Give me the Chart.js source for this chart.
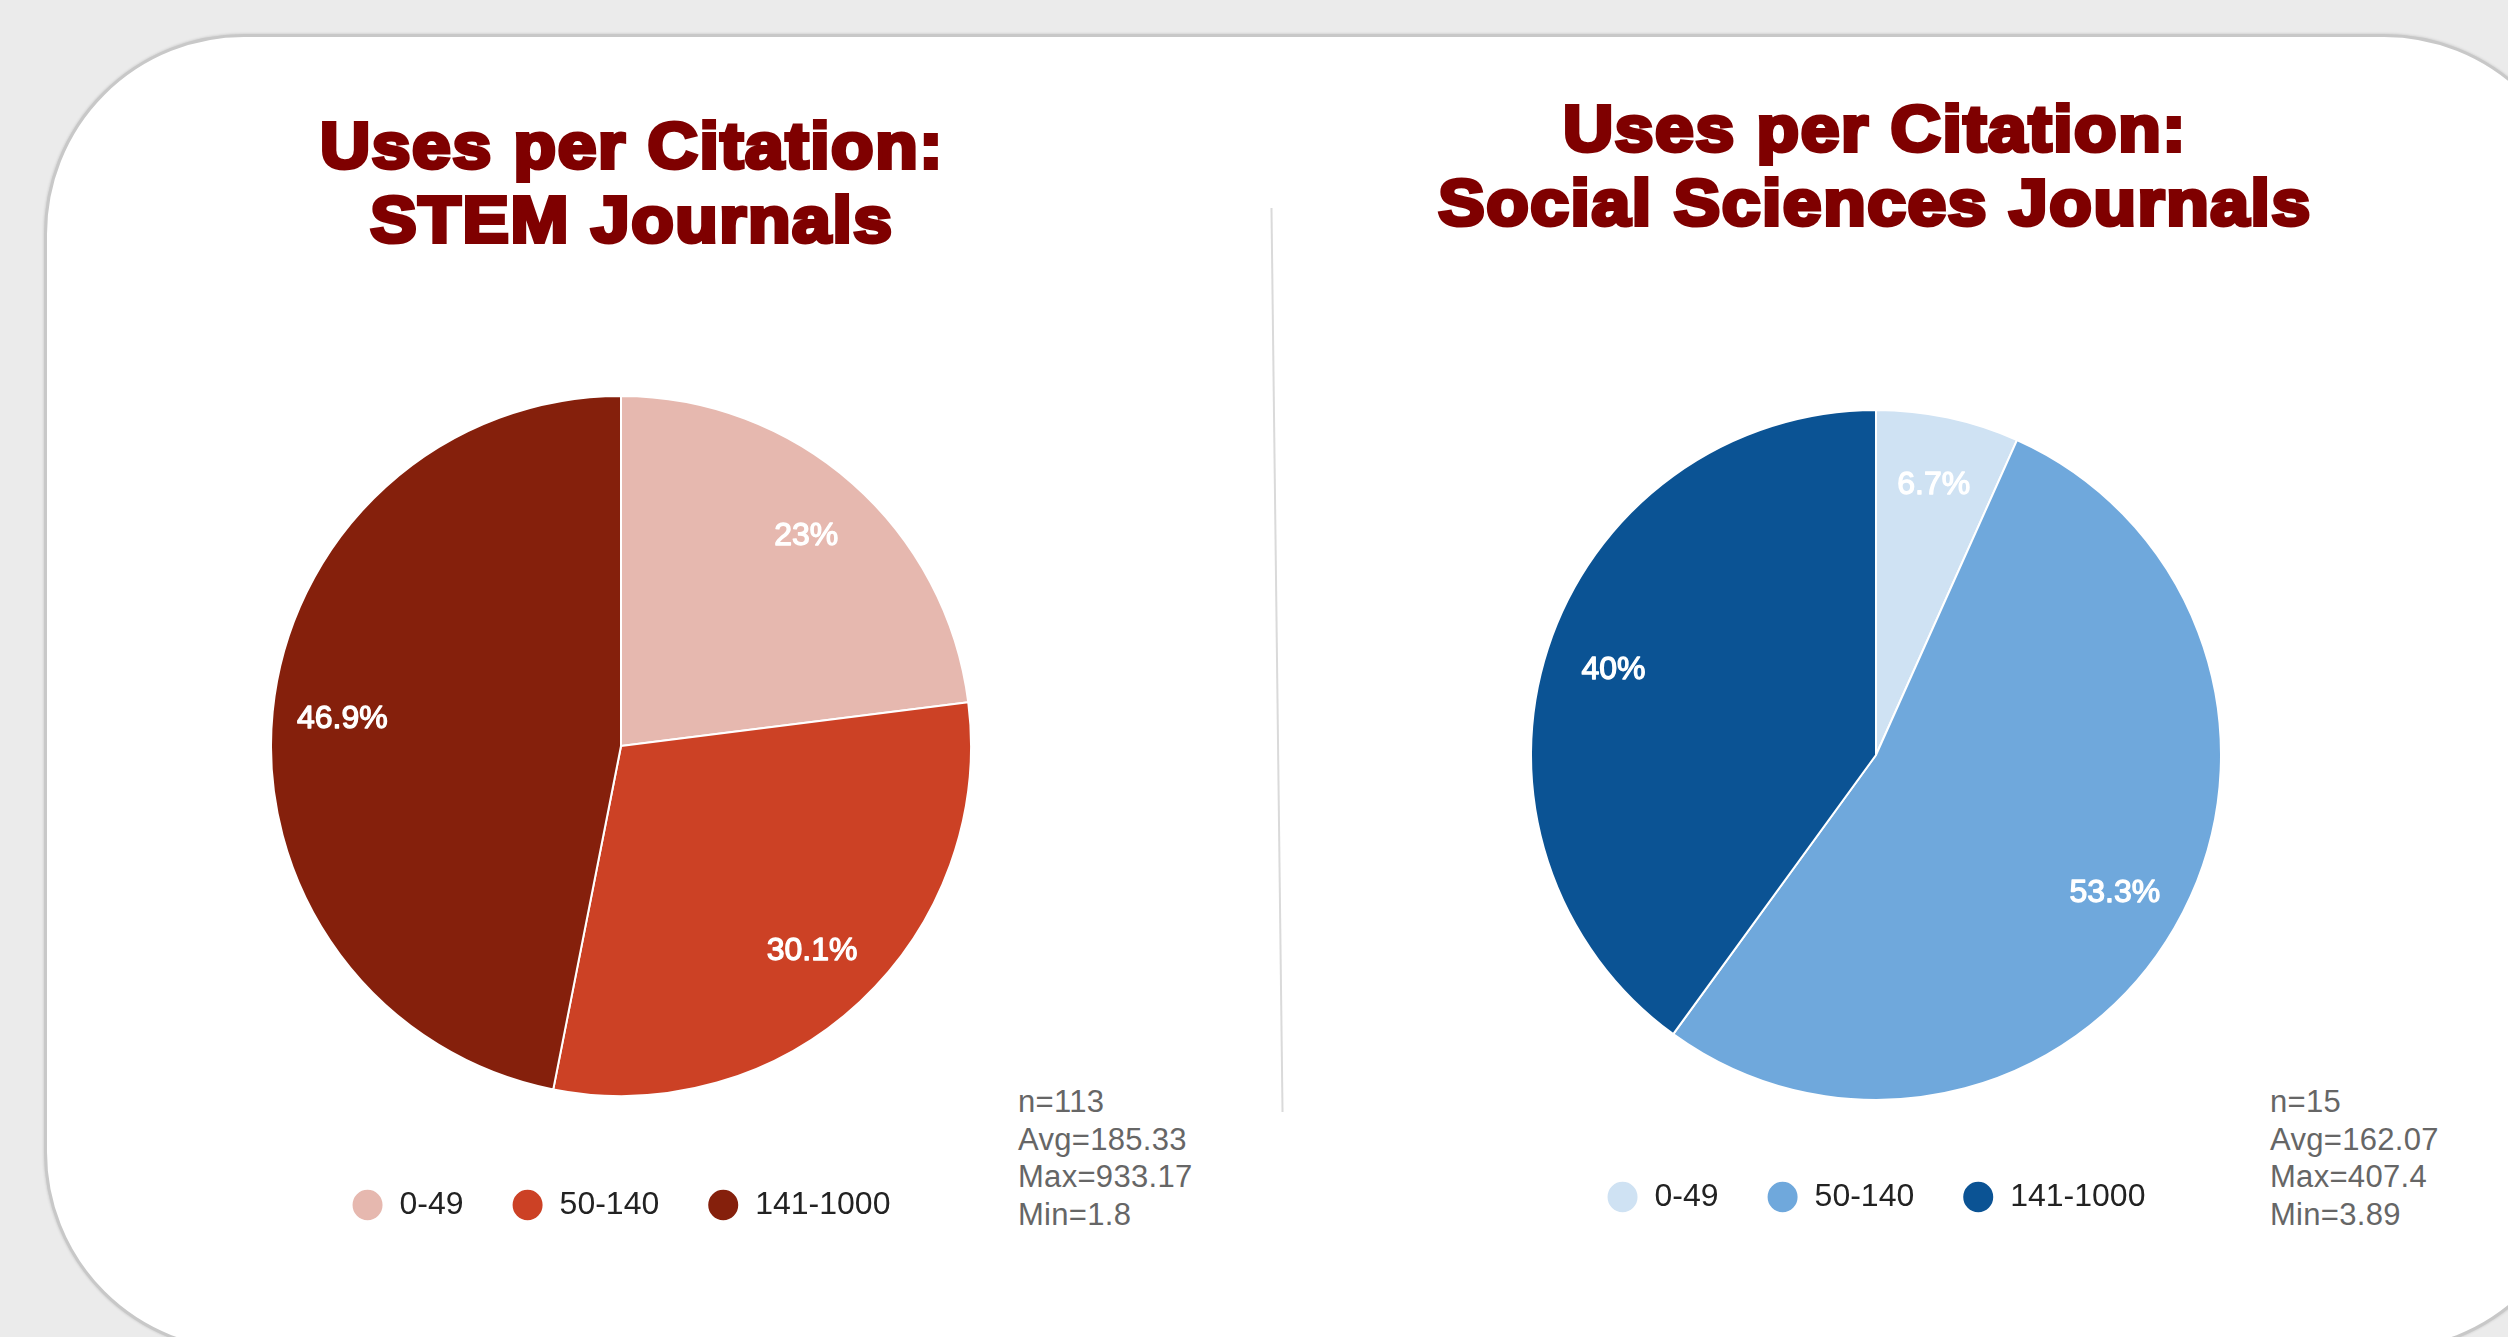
<!DOCTYPE html>
<html><head><meta charset="utf-8">
<script src="https://cdn.jsdelivr.net/npm/chart.js@4.4.1/dist/chart.umd.min.js"></script>
<style>
html,body{margin:0;padding:0;width:2508px;height:1337px;overflow:hidden;background:#ebebeb;font-family:"Liberation Sans",Arial,sans-serif;}
#panel{position:absolute;left:44px;top:34px;width:2540px;height:1318px;background:#fff;border:3px solid #c8c8c8;border-radius:200px;box-sizing:border-box;box-shadow:0 0 3px rgba(0,0,0,0.18);}
.title{position:absolute;width:1200px;text-align:center;color:#7f0000;font-weight:bold;font-size:65px;line-height:74px;white-space:nowrap;-webkit-text-stroke:4px #7f0000;letter-spacing:1.5px;transform:scaleX(1.07);transform-origin:center;}
.stats{position:absolute;color:#666;font-size:31px;line-height:37.5px;white-space:nowrap;letter-spacing:0.3px;}
#divider{position:absolute;left:1276px;top:208px;width:2px;height:904px;background:#dadada;transform:rotate(-0.7deg);}
canvas{position:absolute;}
</style>
</head><body>
<div id="panel"></div>
<div id="divider"></div>
<div class="title" id="stemTitle" style="left:32px;top:109px;"></div>
<div class="title" id="socialTitle" style="left:1275px;top:92px;"></div>
<canvas id="stem" width="702" height="880" style="left:270px;top:351px;"></canvas>
<canvas id="social" width="692" height="846" style="left:1530px;top:377px;"></canvas>
<div class="stats" id="stemStats" style="left:1018px;top:1083px;"></div>
<div class="stats" id="socialStats" style="left:2270px;top:1083px;"></div>
<script>
const categories = ['0-49', '50-140', '141-1000'];
const stemShares = [23, 30.1, 46.9];
const socialShares = [6.7, 53.3, 40];
const stemColors = ['#e6b8af', '#cc4125', '#85200c'];
const socialColors = ['#cfe2f3', '#6fa8dc', '#0b5394'];
const stemTitleLines = ['Uses per Citation:', 'STEM Journals'];
const socialTitleLines = ['Uses per Citation:', 'Social Sciences Journals'];
const stemStatsLines = ['n=113', 'Avg=185.33', 'Max=933.17', 'Min=1.8'];
const socialStatsLines = ['n=15', 'Avg=162.07', 'Max=407.4', 'Min=3.89'];

function fillLines(id, lines) {
  const el = document.getElementById(id);
  lines.forEach((t, i) => {
    if (i) el.appendChild(document.createElement('br'));
    el.appendChild(document.createTextNode(t));
  });
}
fillLines('stemTitle', stemTitleLines);
fillLines('socialTitle', socialTitleLines);
fillLines('stemStats', stemStatsLines);
fillLines('socialStats', socialStatsLines);

Chart.defaults.font.family = '"Liberation Sans", Arial, sans-serif';

const sliceLabels = {
  id: 'sliceLabels',
  afterDatasetsDraw(chart) {
    const ctx = chart.ctx;
    const meta = chart.getDatasetMeta(0);
    const data = chart.data.datasets[0].data;
    ctx.save();
    ctx.fillStyle = '#ffffff';
    ctx.strokeStyle = '#ffffff';
    ctx.lineWidth = 1.3;
    ctx.lineJoin = 'round';
    ctx.font = '32px "Liberation Sans", Arial, sans-serif';
    ctx.textAlign = 'center';
    ctx.textBaseline = 'middle';
    meta.data.forEach((arc, i) => {
      const p = arc.getProps(['x', 'y', 'startAngle', 'endAngle', 'outerRadius'], true);
      const mid = (p.startAngle + p.endAngle) / 2;
      const r = p.outerRadius * 0.8;
      const tx = p.x + Math.cos(mid) * r, ty = p.y + Math.sin(mid) * r;
      ctx.fillText(data[i] + '%', tx, ty);
      ctx.strokeText(data[i] + '%', tx, ty);
    });
    ctx.restore();
  }
};

function makePie(id, shares, colors) {
  return new Chart(document.getElementById(id), {
    type: 'pie',
    data: {
      labels: categories,
      datasets: [{ data: shares, backgroundColor: colors, borderColor: '#ffffff', borderWidth: 2, hoverOffset: 0 }]
    },
    options: {
      responsive: false,
      animation: false,
      layout: { padding: 0 },
      plugins: {
        legend: {
          position: 'bottom',
          labels: {
            usePointStyle: true,
            pointStyle: 'circle',
            pointStyleWidth: 32,
            boxHeight: 23,
            padding: 48,
            color: '#222222',
            font: { size: 32 }
          }
        },
        tooltip: { enabled: false }
      }
    },
    plugins: [sliceLabels]
  });
}
makePie('stem', stemShares, stemColors);
makePie('social', socialShares, socialColors);
</script>
</body></html>
